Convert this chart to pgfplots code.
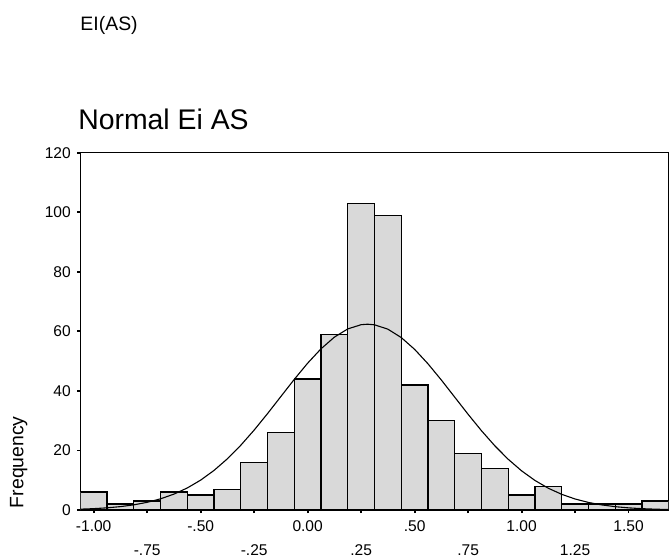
\documentclass[border=0pt]{standalone}
\usepackage{pgfplots}
\pgfplotsset{compat=1.18}
\usepackage{fontspec}
\setmainfont{Liberation Sans}
\definecolor{barfill}{RGB}{217,217,217}
\begin{document}
\begin{tikzpicture}
\useasboundingbox (-80.3bp,-50bp) rectangle (591.7bp,510bp);
\begin{axis}[
  at={(0,0)}, anchor=south west,
  scale only axis, width=588.4bp, height=357.3bp,
  xmin=-1.0625, xmax=1.6875, ymin=0, ymax=120,
  axis line style={line width=1.3bp},
  tick align=outside, xtick pos=left, ytick pos=left,
  major tick length=3bp, tick style={line width=1.8bp, black},
  ytick={0,20,...,120},
  xtick={-1,-0.5,0,0.5,1,1.5},
  xticklabels={-1.00,-.50,0.00,.50,1.00,1.50},
  extra x ticks={-0.75,-0.25,0.25,0.75,1.25},
  extra x tick labels={-.75,-.25,.25,.75,1.25},
  extra x tick style={grid=none, xticklabel style={yshift=-24.3bp}},
  tick label style={font=\fontsize{15.6}{18}\selectfont},
  /pgf/number format/assume math mode=true,
  xticklabel style={anchor=base, yshift=-18bp},
  yticklabel style={anchor=east, xshift=-3bp},
]
\addplot[ybar interval, fill=barfill, draw=black, line width=1.3bp] coordinates {
(-1.0625,6) (-0.9375,2) (-0.8125,3) (-0.6875,6) (-0.5625,5) (-0.4375,7)
(-0.3125,16) (-0.1875,26) (-0.0625,44) (0.0625,59) (0.1875,103) (0.3125,99)
(0.4375,42) (0.5625,30) (0.6875,19) (0.8125,14) (0.9375,5) (1.0625,8)
(1.1875,2) (1.3125,2) (1.4375,2) (1.5625,3) (1.6875,3)
};
\addplot[black, line width=1.1bp, mark=none] coordinates {
(-1.0625,0.278) (-1.0,0.455) (-0.9375,0.727) (-0.875,1.135) (-0.8125,1.731)
(-0.75,2.578) (-0.6875,3.751) (-0.625,5.331) (-0.5625,7.399) (-0.5,10.036)
(-0.4375,13.293) (-0.375,17.201) (-0.3125,21.740) (-0.25,26.840) (-0.1875,32.366)
(-0.125,38.126) (-0.0625,43.872) (0,49.307) (0.0625,54.134) (0.125,58.056)
(0.1875,60.817) (0.25,62.232) (0.28,62.4) (0.3125,62.202) (0.375,60.731)
(0.4375,57.920) (0.5,53.957) (0.5625,49.099) (0.625,43.646) (0.6875,37.894)
(0.75,32.140) (0.8125,26.626) (0.875,21.545) (0.9375,17.032) (1.0,13.151)
(1.0625,9.918) (1.125,7.307) (1.1875,5.259) (1.25,3.697) (1.3125,2.538)
(1.375,1.702) (1.4375,1.116) (1.5,0.714) (1.5625,0.446) (1.625,0.273) (1.6875,0.162)
};
\end{axis}
\node[anchor=base west, font=\fontsize{19.5}{22}\selectfont, inner sep=0] at (0bp,479.3bp) {EI(AS)};
\node[anchor=base west, font=\fontsize{28.5}{32}\selectfont, inner sep=0] at (-2.2bp,380.7bp) {Normal Ei AS};
\node[rotate=90, anchor=base west, font=\fontsize{19.5}{22}\selectfont, inner sep=0] at (-57bp,1.7bp) {Frequency};
\end{tikzpicture}
\end{document}
